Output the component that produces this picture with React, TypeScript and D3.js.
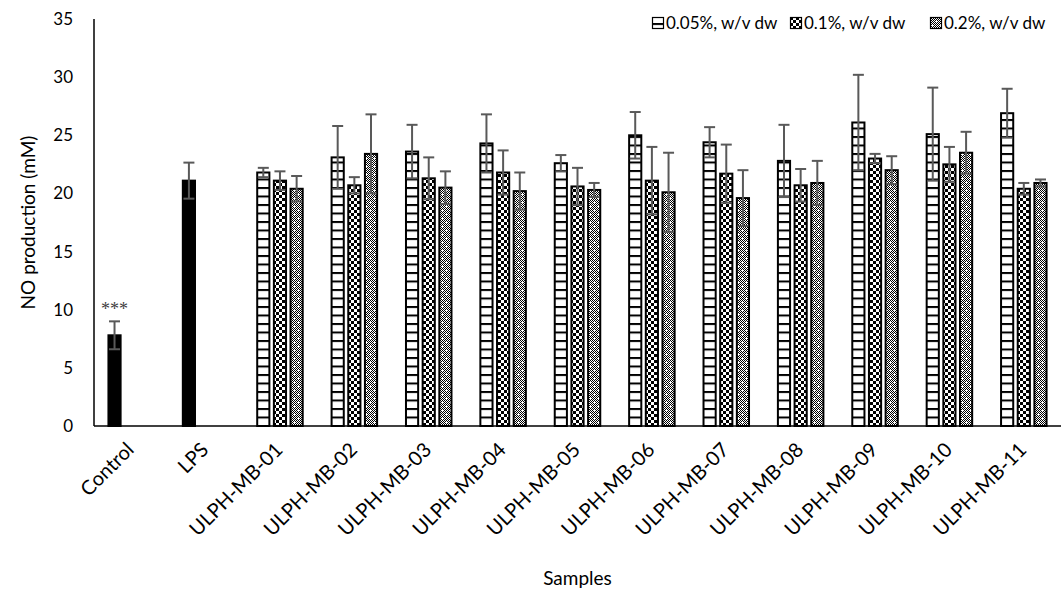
import React from "react";
import * as d3 from "d3";

// --- data ---
const categories = [
  "Control", "LPS",
  "ULPH-MB-01", "ULPH-MB-02", "ULPH-MB-03", "ULPH-MB-04", "ULPH-MB-05", "ULPH-MB-06",
  "ULPH-MB-07", "ULPH-MB-08", "ULPH-MB-09", "ULPH-MB-10", "ULPH-MB-11",
];
const seriesNames = ["0.05%, w/v dw", "0.1%, w/v dw", "0.2%, w/v dw"];

// Control and LPS (solid black bars)
const refValues = [7.8, 21.1];
const refErrors = [1.2, 1.55];
const refMarks = ["***", ""];

// ULPH-MB-01 .. ULPH-MB-11
const values005 = [21.8, 23.1, 23.6, 24.3, 22.6, 25.0, 24.4, 22.8, 26.1, 25.1, 26.9];
const errors005 = [0.4, 2.7, 2.3, 2.5, 0.7, 2.0, 1.3, 3.1, 4.1, 4.0, 2.1];
const values01 = [21.1, 20.7, 21.3, 21.8, 20.6, 21.1, 21.7, 20.7, 23.0, 22.5, 20.4];
const errors01 = [0.8, 0.7, 1.8, 1.9, 1.6, 2.9, 2.5, 1.4, 0.4, 1.5, 0.5];
const values02 = [20.4, 23.4, 20.5, 20.2, 20.3, 20.1, 19.6, 20.9, 22.0, 23.5, 20.9];
const errors02 = [1.1, 3.4, 1.4, 1.6, 0.6, 3.4, 2.4, 1.9, 1.2, 1.8, 0.3];

const yTicks = [0, 5, 10, 15, 20, 25, 30, 35];

// --- layout ---
const W = 1061;
const H = 594;
const m = { left: 94, right: 0, top: 19, bottom: 168 };
const FONT = "Lato, 'Open Sans', sans-serif";
const ERR = "#595959";
const patternIds = ["pat-hlines", "pat-checker", "pat-fine"];
const legendX = [652, 790, 930];

const seriesValues = [values005, values01, values02];
const seriesErrors = [errors005, errors01, errors02];

export default function App() {
  const y = d3.scaleLinear().domain([0, 35]).range([H - m.bottom, m.top]);
  const x0 = d3.scaleBand().domain(categories).range([m.left, W - m.right]);
  const groupW = 47.5;
  const x1 = d3.scaleBand().domain(seriesNames).range([0, groupW]).paddingInner(0.15);
  const bw = x1.bandwidth();
  const groupLeft = (c: string) => (x0(c) as number) + (x0.bandwidth() - groupW) / 2;

  type Bar = { key: string; x: number; v: number; e: number; fill: string; mark?: string };
  const bars: Bar[] = [];
  categories.forEach((c, i) => {
    if (i < refValues.length) {
      bars.push({
        key: c, x: groupLeft(c) + (x1(seriesNames[0]) as number),
        v: refValues[i], e: refErrors[i], fill: "#000", mark: refMarks[i],
      });
    } else {
      seriesNames.forEach((s, j) => {
        bars.push({
          key: c + s, x: groupLeft(c) + (x1(s) as number),
          v: seriesValues[j][i - refValues.length], e: seriesErrors[j][i - refValues.length],
          fill: `url(#${patternIds[j]})`,
        });
      });
    }
  });

  // fine dither pattern cells
  const fineCells: [number, number][] = [];
  for (let r = 0; r < 8; r++) for (let c = 0; c < 8; c++) if ((r + c) % 2 === 0) fineCells.push([c, r]);

  const cap = 5.5;
  const y0 = y(0);

  return (
    <svg width={W} height={H} style={{ position: "absolute", left: 0, top: 0, background: "#fff" }}>
      <defs>
        <pattern id="pat-hlines" patternUnits="userSpaceOnUse" width={8} height={8.5}>
          <rect width={8} height={8.5} fill="#fff" />
          <rect y={0} width={8} height={2} fill="#000" />
        </pattern>
        <pattern id="pat-checker" patternUnits="userSpaceOnUse" width={6} height={6}>
          <rect width={6} height={6} fill="#fff" />
          <rect x={0} y={0} width={3} height={3} fill="#000" />
          <rect x={3} y={3} width={3} height={3} fill="#000" />
        </pattern>
        <pattern id="pat-fine" patternUnits="userSpaceOnUse" width={8} height={8}>
          <rect width={8} height={8} fill="#fff" />
          {fineCells.map(([cx, cy]) => (
            <rect key={`${cx}-${cy}`} x={cx} y={cy} width={1} height={1} fill="#000" />
          ))}
          <rect x={1} y={2} width={3} height={1} fill="#fff" />
          <rect x={2} y={1} width={1} height={3} fill="#fff" />
          <rect x={5} y={6} width={3} height={1} fill="#fff" />
          <rect x={6} y={5} width={1} height={3} fill="#fff" />
        </pattern>
      </defs>

      {/* bars */}
      {bars.map((b) => (
        <rect
          key={b.key}
          x={b.x + 1}
          y={y(b.v)}
          width={bw - 2}
          height={y0 - y(b.v)}
          fill={b.fill}
          stroke="#000"
          strokeWidth={2}
        />
      ))}

      {/* error bars */}
      {bars.map((b) => {
        const cx = b.x + bw / 2;
        return (
          <g key={"e" + b.key} stroke={ERR} strokeWidth={2}>
            <line x1={cx} x2={cx} y1={y(b.v - b.e)} y2={y(b.v + b.e)} />
            <line x1={cx - cap} x2={cx + cap} y1={y(b.v + b.e)} y2={y(b.v + b.e)} />
            <line x1={cx - cap} x2={cx + cap} y1={y(b.v - b.e)} y2={y(b.v - b.e)} />
          </g>
        );
      })}

      {/* significance marks */}
      {bars.filter((b) => b.mark).map((b) => (
        <text
          key={"m" + b.key}
          x={b.x + bw / 2}
          y={y(b.v + b.e) - 6}
          textAnchor="middle"
          fontFamily="'Liberation Serif', serif"
          fontSize={18}
          fill="#404040"
        >
          {b.mark}
        </text>
      ))}

      {/* axes */}
      <line x1={m.left} x2={m.left} y1={m.top} y2={y0} stroke="#000" strokeWidth={1.5} />
      <line x1={m.left} x2={W - m.right} y1={y0} y2={y0} stroke="#000" strokeWidth={1.5} />

      {yTicks.map((t) => (
        <text key={t} x={73} y={y(t)} dy="0.35em" textAnchor="end" fontFamily={FONT} fontSize={17} fill="#000">
          {t}
        </text>
      ))}

      {categories.map((c) => {
        const cx = (x0(c) as number) + x0.bandwidth() / 2 + 4;
        const cy = y0 + 25;
        return (
          <g key={c} transform={`translate(${cx},${cy}) rotate(-45)`}>
            <text x={0} y={0} textAnchor="end" fontFamily={FONT} fontSize={20} fill="#000">
              {c}
            </text>
          </g>
        );
      })}

      <g transform={`translate(28,${(m.top + y0) / 2}) rotate(-90)`}>
        <text x={0} y={0} textAnchor="middle" dy="0.35em" fontFamily={FONT} fontSize={19} fill="#000">
          NO production (mM)
        </text>
      </g>
      <text x={(m.left + W - m.right) / 2} y={578} textAnchor="middle" dy="0.35em" fontFamily={FONT} fontSize={19} fill="#000">
        Samples
      </text>

      {/* legend */}
      {seriesNames.map((s, j) => (
        <g key={s} transform={`translate(${legendX[j]},23)`}>
          <rect x={0.5} y={-5.5} width={11} height={11} fill={`url(#${patternIds[j]})`} stroke="#000" strokeWidth={1.2} />
          <text x={14} y={0} dy="0.35em" fontFamily={FONT} fontSize={17} fill="#000">
            {s}
          </text>
        </g>
      ))}
    </svg>
  );
}
